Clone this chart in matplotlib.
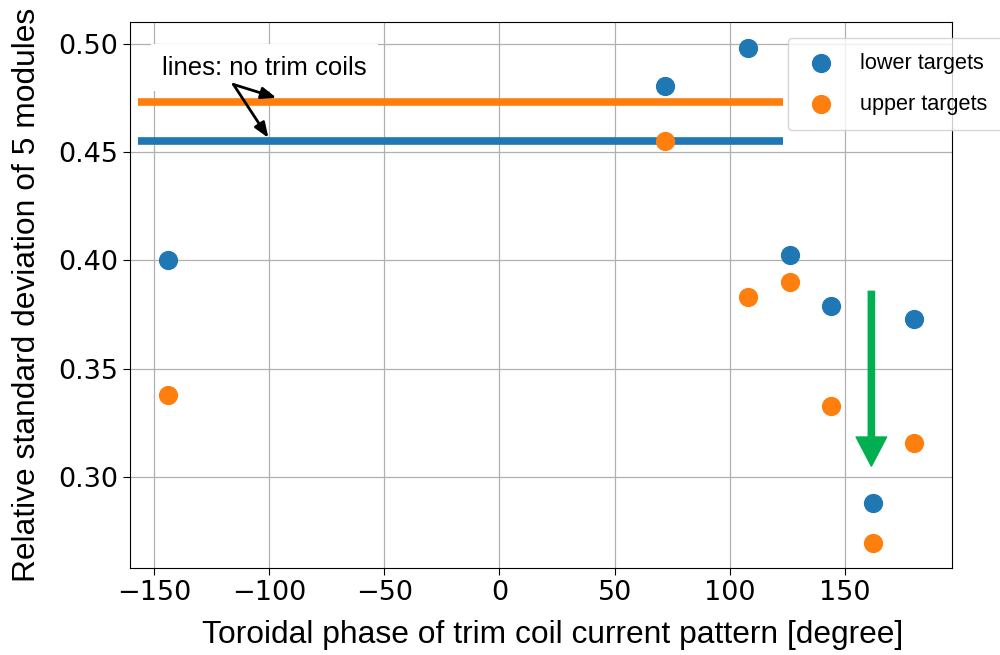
import numpy as np
import matplotlib.pyplot as plt

# toroidal phase of the trim coil current pattern [deg]
phase = [-144, 72, 108, 126, 144, 162, 180]
lower_targets = [0.400, 0.4806, 0.498, 0.4023, 0.379, 0.288, 0.373]
upper_targets = [0.338, 0.455, 0.383, 0.390, 0.333, 0.2695, 0.3157]

# reference values without trim coils
no_trim_lower = 0.4552
no_trim_upper = 0.4732

blue = '#1f77b4'
orange = '#ff7f0e'

fig = plt.figure(figsize=(10, 6.55), dpi=100)
ax = fig.add_axes([0.13, 0.1328, 0.822, 0.8336])

ax.hlines(no_trim_upper, -157, 123, color=orange, lw=5.5, zorder=2)
ax.hlines(no_trim_lower, -157, 123, color=blue, lw=5.5, zorder=2)

ax.scatter(phase, lower_targets, s=165, color=blue, label='lower targets', zorder=3)
ax.scatter(phase, upper_targets, s=165, color=orange, label='upper targets', zorder=3)

ax.set_xlim(-160.4, 196.5)
ax.set_ylim(0.258, 0.510)
ax.set_xticks([-150, -100, -50, 0, 50, 100, 150])
ax.set_yticks([0.30, 0.35, 0.40, 0.45, 0.50])
ax.grid(True, color='#b0b0b0', lw=0.9)
ax.set_axisbelow(True)
ax.tick_params(labelsize=19.5, length=5)

ax.set_xlabel('Toroidal phase of trim coil current pattern [degree]',
              fontsize=22.9, family='Liberation Sans', labelpad=10)
ax.xaxis.set_label_coords(0.5146, -0.095)
ax.set_ylabel('Relative standard deviation of 5 modules',
              fontsize=22.9, family='Liberation Sans', labelpad=12)

# label pointing at both reference lines
ax.text(-102, 0.4857, 'lines: no trim coils', fontsize=18.5,
        family='Liberation Sans', ha='center', va='baseline', zorder=4,
        bbox=dict(boxstyle='square,pad=0.45', fc='white', ec='none'))
arrow_start = (-115.5, 0.4812)
for tip in [(-96.8, 0.4750), (-100.3, 0.4565)]:
    ax.annotate('', xy=tip, xytext=arrow_start,
                arrowprops=dict(arrowstyle='-|>,head_width=0.35,head_length=0.9',
                                color='black', lw=2.0, shrinkA=0, shrinkB=0),
                zorder=5)

# green arrow marking the improvement
ax.annotate('', xy=(161.5, 0.305), xytext=(161.5, 0.3857),
            arrowprops=dict(facecolor='#00b050', edgecolor='#00b050',
                            width=4.5, headwidth=22, headlength=21, shrink=0),
            zorder=4)

leg = ax.legend(loc='upper left', bbox_to_anchor=(0.8005, 0.9707),
                borderaxespad=0, borderpad=0.7, labelspacing=0.9,
                handlelength=1.6, handletextpad=1.0, framealpha=0.8,
                prop={'family': 'Liberation Sans', 'size': 15.6})

fig.savefig('out.png', dpi=100)
